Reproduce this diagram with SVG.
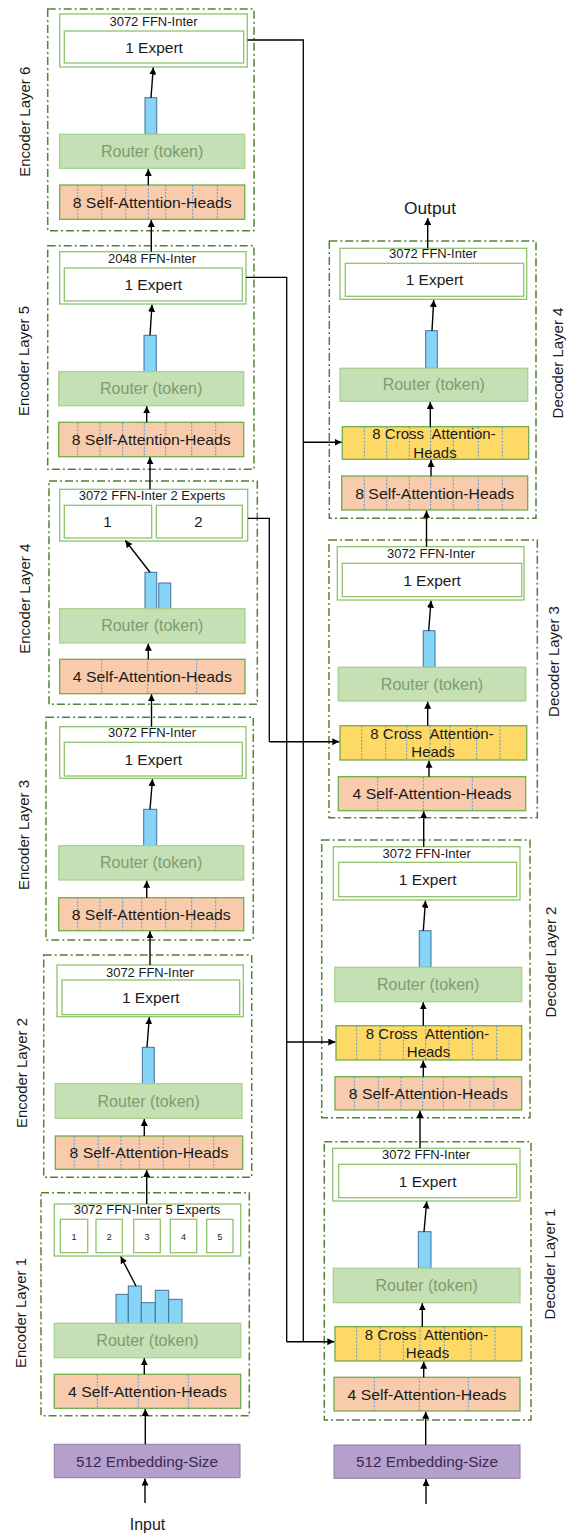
<svg xmlns="http://www.w3.org/2000/svg" width="574" height="1535" viewBox="0 0 574 1535">
<defs>
<marker id="ah" viewBox="0 0 10 10" refX="10" refY="5" markerWidth="5" markerHeight="5" orient="auto" markerUnits="strokeWidth"><path d="M0,0 L10,5 L0,10 z" fill="#000"/></marker>
<style>
.layer{fill:none;stroke:#548235;stroke-width:1.5;stroke-dasharray:8 3 2 3}
.ffn{fill:#fff;stroke:#8FC46E;stroke-width:1.3}
.router{fill:#C5E0B4;stroke:#A9D18E;stroke-width:1.3}
.sa{fill:#F8CBAD;stroke:#70AD47;stroke-width:1.3}
.ca{fill:#FFD966;stroke:#70AD47;stroke-width:1.3}
.emb{fill:#B59FCC;stroke:#8E7CA6;stroke-width:1}
.bar{fill:#86D5F6;stroke:#41719C;stroke-width:1}
.heads{stroke:#5B9BD5;stroke-width:1;stroke-dasharray:2 1.5;fill:none}
.t{font-family:"Liberation Sans",Arial,sans-serif;text-anchor:middle;fill:#1a1a1a}
.s{font-size:13px}
.m{font-size:15px}
.x{font-size:15.5px}
.r{font-size:16px;fill:#7F9B70}
.n{font-size:9px}
.e{font-size:15px;fill:#3C2A55}
.io{font-size:16px}
.ar{stroke:#000;stroke-width:1.4;fill:none;marker-end:url(#ah)}
.ln{stroke:#000;stroke-width:1.3;fill:none}
</style>
</defs>

<!-- ================= ENCODER ================= -->
<g id="enc6">
<rect class="layer" x="47.7" y="9" width="206.3" height="221.7"/>
<text class="t m" transform="translate(30,121.7) rotate(-90)">Encoder Layer 6</text>
<g id="enc6-ffn"><rect class="ffn" x="59.7" y="14" width="187.6" height="53"/><text class="t s" x="153.5" y="26">3072 FFN-Inter</text>
<rect class="ffn" x="64.3" y="31" width="179.4" height="32"/><text class="t x" x="154" y="52.5">1 Expert</text></g>
<g id="enc6-gate"><rect class="bar" x="145" y="97.7" width="11.7" height="36.6"/></g>
<g id="enc6-router"><rect class="router" x="59.7" y="134.3" width="185" height="34"/><text class="t r" x="152.2" y="156.7">Router (token)</text></g>
<g id="enc6-sa"><rect class="sa" x="59.7" y="185" width="185" height="34.3"/><path class="heads" d="M77.7,185V219.3M101.7,185V219.3M125.7,185V219.3M148.3,185V219.3M165.7,185V219.3M192.7,185V219.3M217.3,185V219.3"/><text class="t m" x="152.2" y="208.3" textLength="159" lengthAdjust="spacingAndGlyphs">8 Self-Attention-Heads</text></g>
</g>

<g id="enc5">
<rect class="layer" x="47.7" y="245.7" width="206.3" height="223.6"/>
<text class="t m" transform="translate(28.5,361) rotate(-90)">Encoder Layer 5</text>
<g id="enc5-ffn"><rect class="ffn" x="59.7" y="251.7" width="186.3" height="52.3"/><text class="t s" x="152" y="262.7">2048 FFN-Inter</text>
<rect class="ffn" x="64.3" y="268" width="178" height="33"/><text class="t x" x="153.3" y="290">1 Expert</text></g>
<g id="enc5-gate"><rect class="bar" x="144" y="335.3" width="12.3" height="36.4"/></g>
<g id="enc5-router"><rect class="router" x="58.7" y="371.7" width="185" height="34"/><text class="t r" x="151.2" y="394.2">Router (token)</text></g>
<g id="enc5-sa"><rect class="sa" x="58.7" y="422.3" width="185" height="34.4"/><path class="heads" d="M77.7,422.3V456.7M100,422.3V456.7M122.7,422.3V456.7M144.3,422.3V456.7M165.7,422.3V456.7M191.7,422.3V456.7M215.7,422.3V456.7"/><text class="t m" x="151.2" y="445" textLength="159" lengthAdjust="spacingAndGlyphs">8 Self-Attention-Heads</text></g>
</g>

<g id="enc4">
<rect class="layer" x="49" y="481" width="208.3" height="223.3"/>
<text class="t m" transform="translate(30,598.7) rotate(-90)">Encoder Layer 4</text>
<g id="enc4-ffn"><rect class="ffn" x="59.7" y="489.3" width="188" height="51.7"/><text class="t s" x="152" y="500">3072 FFN-Inter 2 Experts</text>
<rect class="ffn" x="64.3" y="505.3" width="87.4" height="32.7"/><text class="t m" x="107.5" y="527">1</text>
<rect class="ffn" x="156.3" y="505.3" width="86" height="32.7"/><text class="t m" x="198.5" y="527">2</text></g>
<g id="enc4-gate"><rect class="bar" x="145" y="572.3" width="11.7" height="37"/><rect class="bar" x="158.7" y="583" width="12" height="26.3"/></g>
<g id="enc4-router"><rect class="router" x="59.7" y="608.7" width="185.3" height="34.3"/><text class="t r" x="152.3" y="631.3">Router (token)</text></g>
<g id="enc4-sa"><rect class="sa" x="59.7" y="659.3" width="185.3" height="34.4"/><path class="heads" d="M101.7,659.3V693.7M147.7,659.3V693.7M196.7,659.3V693.7"/><text class="t m" x="152.3" y="682" textLength="159" lengthAdjust="spacingAndGlyphs">4 Self-Attention-Heads</text></g>
</g>

<g id="enc3">
<rect class="layer" x="46" y="717.3" width="207.3" height="222.7"/>
<text class="t m" transform="translate(28.5,835) rotate(-90)">Encoder Layer 3</text>
<g id="enc3-ffn"><rect class="ffn" x="59.7" y="726.7" width="186.3" height="51.6"/><text class="t s" x="152" y="737.3">3072 FFN-Inter</text>
<rect class="ffn" x="64.3" y="742.3" width="178" height="33.7"/><text class="t x" x="153.3" y="764.7">1 Expert</text></g>
<g id="enc3-gate"><rect class="bar" x="143.7" y="809.3" width="13" height="38"/></g>
<g id="enc3-router"><rect class="router" x="58.7" y="845.7" width="185" height="34.3"/><text class="t r" x="151.2" y="868.3">Router (token)</text></g>
<g id="enc3-sa"><rect class="sa" x="58.7" y="897.7" width="185" height="33"/><path class="heads" d="M77.7,897.7V930.7M100,897.7V930.7M122.7,897.7V930.7M141.7,897.7V930.7M165.7,897.7V930.7M191.7,897.7V930.7M215.7,897.7V930.7"/><text class="t m" x="151.2" y="919.7" textLength="159" lengthAdjust="spacingAndGlyphs">8 Self-Attention-Heads</text></g>
</g>

<g id="enc2">
<rect class="layer" x="43.7" y="955" width="208" height="222.3"/>
<text class="t m" transform="translate(27,1073) rotate(-90)">Encoder Layer 2</text>
<g id="enc2-ffn"><rect class="ffn" x="57" y="965" width="186.3" height="51.7"/><text class="t s" x="150" y="976.7">3072 FFN-Inter</text>
<rect class="ffn" x="62" y="980" width="177.7" height="34.7"/><text class="t x" x="150.8" y="1002.8">1 Expert</text></g>
<g id="enc2-gate"><rect class="bar" x="142.3" y="1047.3" width="12" height="38"/></g>
<g id="enc2-router"><rect class="router" x="55.3" y="1083.7" width="186.7" height="34.6"/><text class="t r" x="148.7" y="1106.5">Router (token)</text></g>
<g id="enc2-sa"><rect class="sa" x="55.3" y="1136" width="187.4" height="33.3"/><path class="heads" d="M74.3,1136V1169.3M98.3,1136V1169.3M121,1136V1169.3M139.3,1136V1169.3M163.3,1136V1169.3M189.3,1136V1169.3M213.7,1136V1169.3"/><text class="t m" x="149" y="1158.2" textLength="159" lengthAdjust="spacingAndGlyphs">8 Self-Attention-Heads</text></g>
</g>

<g id="enc1">
<rect class="layer" x="41" y="1192.7" width="208.3" height="223"/>
<text class="t m" transform="translate(26,1313) rotate(-90)">Encoder Layer 1</text>
<g id="enc1-ffn"><rect class="ffn" x="54.3" y="1204" width="186.4" height="52"/><text class="t s" x="147" y="1214.3">3072 FFN-Inter 5 Experts</text>
<rect class="ffn" x="60.3" y="1219.3" width="27.4" height="33.4"/><text class="t n" x="74" y="1239.5">1</text>
<rect class="ffn" x="96" y="1219.3" width="26.3" height="33.4"/><text class="t n" x="109.2" y="1239.5">2</text>
<rect class="ffn" x="133.7" y="1219.3" width="26.6" height="33.4"/><text class="t n" x="147" y="1239.5">3</text>
<rect class="ffn" x="170.3" y="1219.3" width="26.4" height="33.4"/><text class="t n" x="183.5" y="1239.5">4</text>
<rect class="ffn" x="206.7" y="1219.3" width="26.3" height="33.4"/><text class="t n" x="219.8" y="1239.5">5</text></g>
<g id="enc1-gate"><rect class="bar" x="116" y="1294.3" width="12.3" height="29.7"/><rect class="bar" x="128.3" y="1286" width="13" height="38"/><rect class="bar" x="141.3" y="1302.7" width="14" height="21.3"/><rect class="bar" x="155.3" y="1290.3" width="13.4" height="33.7"/><rect class="bar" x="168.7" y="1299.3" width="13.3" height="24.7"/></g>
<g id="enc1-router"><rect class="router" x="54.3" y="1323.3" width="186.4" height="34.4"/><text class="t r" x="147.5" y="1346">Router (token)</text></g>
<g id="enc1-sa"><rect class="sa" x="54.3" y="1374.3" width="186.4" height="34"/><path class="heads" d="M97.3,1374.3V1408.3M138.3,1374.3V1408.3M188.3,1374.3V1408.3"/><text class="t m" x="147.5" y="1396.8" textLength="159" lengthAdjust="spacingAndGlyphs">4 Self-Attention-Heads</text></g>
</g>

<g id="enc-emb"><rect class="emb" x="54.3" y="1444.3" width="185.7" height="33.4"/><text class="t e" x="147" y="1466.5" textLength="142" lengthAdjust="spacingAndGlyphs">512 Embedding-Size</text></g>
<g id="input"><text class="t io" x="147.5" y="1529.5">Input</text></g>

<!-- ================= DECODER ================= -->
<g id="dec4">
<rect class="layer" x="329.3" y="241" width="206.7" height="277.3"/>
<text class="t m" transform="translate(562.5,363) rotate(-90)">Decoder Layer 4</text>
<g id="dec4-ffn"><rect class="ffn" x="340" y="248.3" width="186.7" height="51"/><text class="t s" x="433" y="258.3">3072 FFN-Inter</text>
<rect class="ffn" x="345.3" y="263.3" width="178.4" height="33"/><text class="t x" x="434.5" y="285.3">1 Expert</text></g>
<g id="dec4-gate"><rect class="bar" x="425.7" y="330.7" width="11.6" height="37.6"/></g>
<g id="dec4-router"><rect class="router" x="340" y="368.3" width="187.7" height="33"/><text class="t r" x="433.8" y="390.3">Router (token)</text></g>
<g id="dec4-ca"><rect class="ca" x="342.3" y="426.7" width="186.4" height="32.6"/><path class="heads" d="M364.3,426.7V459.3M386.7,426.7V459.3M409.3,426.7V459.3M430.7,426.7V459.3M453.3,426.7V459.3M478.3,426.7V459.3M502.3,426.7V459.3"/><text class="t m" x="434" y="439.3" xml:space="preserve">8 Cross  Attention-</text><text class="t m" x="435" y="457.5">Heads</text></g>
<g id="dec4-sa"><rect class="sa" x="341.7" y="476" width="186" height="34"/><path class="heads" d="M364.3,476V510M386.7,476V510M409.3,476V510M430.7,476V510M453.3,476V510M478.3,476V510M502.3,476V510"/><text class="t m" x="434.7" y="498.5" textLength="159" lengthAdjust="spacingAndGlyphs">8 Self-Attention-Heads</text></g>
</g>
<g id="output"><text class="t io" x="430" y="213.5" textLength="52" lengthAdjust="spacingAndGlyphs">Output</text></g>

<g id="dec3">
<rect class="layer" x="329" y="540" width="208.3" height="277.7"/>
<text class="t m" transform="translate(559,661.5) rotate(-90)">Decoder Layer 3</text>
<g id="dec3-ffn"><rect class="ffn" x="337.3" y="546.7" width="186.7" height="53.3"/><text class="t s" x="431" y="558.3">3072 FFN-Inter</text>
<rect class="ffn" x="342.3" y="563.3" width="179.4" height="33.4"/><text class="t x" x="432" y="585.5">1 Expert</text></g>
<g id="dec3-gate"><rect class="bar" x="423.3" y="630.7" width="11.7" height="36.6"/></g>
<g id="dec3-router"><rect class="router" x="338.3" y="667.3" width="187.4" height="33.7"/><text class="t r" x="432" y="689.7">Router (token)</text></g>
<g id="dec3-ca"><rect class="ca" x="340" y="725.7" width="186.7" height="34.3"/><path class="heads" d="M361.7,725.7V760M385.7,725.7V760M406.7,725.7V760M430,725.7V760M450,725.7V760M476.7,725.7V760M500,725.7V760"/><text class="t m" x="432" y="738.5" xml:space="preserve">8 Cross  Attention-</text><text class="t m" x="433" y="757">Heads</text></g>
<g id="dec3-sa"><rect class="sa" x="338.3" y="776.7" width="187.4" height="34"/><path class="heads" d="M377.7,776.7V810.7M423.3,776.7V810.7M472.3,776.7V810.7"/><text class="t m" x="432" y="799" textLength="159" lengthAdjust="spacingAndGlyphs">4 Self-Attention-Heads</text></g>
</g>

<g id="dec2">
<rect class="layer" x="321.7" y="840" width="208.3" height="277.7"/>
<text class="t m" transform="translate(556,962) rotate(-90)">Decoder Layer 2</text>
<g id="dec2-ffn"><rect class="ffn" x="333.3" y="846.7" width="186.7" height="53.3"/><text class="t s" x="426.7" y="858.3">3072 FFN-Inter</text>
<rect class="ffn" x="338.7" y="862.3" width="178" height="34.4"/><text class="t x" x="427.7" y="885">1 Expert</text></g>
<g id="dec2-gate"><rect class="bar" x="419.3" y="930.7" width="11.7" height="36.6"/></g>
<g id="dec2-router"><rect class="router" x="334.7" y="967.3" width="187" height="34.4"/><text class="t r" x="428.2" y="990">Router (token)</text></g>
<g id="dec2-ca"><rect class="ca" x="336" y="1025.7" width="185.7" height="34.3"/><path class="heads" d="M356.7,1025.7V1060M380,1025.7V1060M403.3,1025.7V1060M425.7,1025.7V1060M449,1025.7V1060M472.3,1025.7V1060M496.7,1025.7V1060"/><text class="t m" x="427.5" y="1038.5" xml:space="preserve">8 Cross  Attention-</text><text class="t m" x="428.5" y="1057">Heads</text></g>
<g id="dec2-sa"><rect class="sa" x="335" y="1076.7" width="186.7" height="33.3"/><path class="heads" d="M354.3,1076.7V1110M378.3,1076.7V1110M401,1076.7V1110M422.7,1076.7V1110M443.3,1076.7V1110M470,1076.7V1110M494,1076.7V1110"/><text class="t m" x="428.3" y="1098.5" textLength="159" lengthAdjust="spacingAndGlyphs">8 Self-Attention-Heads</text></g>
</g>

<g id="dec1">
<rect class="layer" x="324.3" y="1141.7" width="206.7" height="278.3"/>
<text class="t m" transform="translate(555,1264) rotate(-90)">Decoder Layer 1</text>
<g id="dec1-ffn"><rect class="ffn" x="332.7" y="1148.3" width="187.3" height="52.7"/><text class="t s" x="426" y="1159.3">3072 FFN-Inter</text>
<rect class="ffn" x="338.7" y="1164.3" width="178" height="33.4"/><text class="t x" x="427.7" y="1186.5">1 Expert</text></g>
<g id="dec1-gate"><rect class="bar" x="418.3" y="1231.7" width="12.7" height="36.6"/></g>
<g id="dec1-router"><rect class="router" x="333.3" y="1268.3" width="186.7" height="34.4"/><text class="t r" x="426.7" y="1291">Router (token)</text></g>
<g id="dec1-ca"><rect class="ca" x="335" y="1326.7" width="186.7" height="34.3"/><path class="heads" d="M356.7,1326.7V1361M380,1326.7V1361M403.3,1326.7V1361M420,1326.7V1361M444.3,1326.7V1361M471,1326.7V1361M495,1326.7V1361"/><text class="t m" x="426.5" y="1339.5" xml:space="preserve">8 Cross  Attention-</text><text class="t m" x="427.5" y="1358">Heads</text></g>
<g id="dec1-sa"><rect class="sa" x="334" y="1377.3" width="186" height="33.7"/><path class="heads" d="M374.3,1377.3V1411M419.3,1377.3V1411M468.3,1377.3V1411"/><text class="t m" x="427" y="1399.5" textLength="159" lengthAdjust="spacingAndGlyphs">4 Self-Attention-Heads</text></g>
</g>
<g id="dec-emb"><rect class="emb" x="334" y="1445" width="186" height="33.3"/><text class="t e" x="427" y="1467" textLength="142" lengthAdjust="spacingAndGlyphs">512 Embedding-Size</text></g>

<!-- ================= CONNECTORS ================= -->
<g id="connectors">
<!-- encoder flow -->
<path class="ar" d="M145,1503V1478.5"/>
<path class="ar" d="M145.3,1444.3V1409"/>
<path class="ar" d="M144.3,1374.3V1358.3"/>
<path class="ar" d="M136,1286L120.7,1256.5"/>
<path class="ar" d="M146.7,1204V1170"/>
<path class="ar" d="M144.3,1136V1119"/>
<path class="ar" d="M147,1047.3L149.3,1017.3"/>
<path class="ar" d="M150,965V931.3"/>
<path class="ar" d="M146.7,897.7V880.7"/>
<path class="ar" d="M150,809.3L152.5,779"/>
<path class="ar" d="M151.5,726.7V694.3"/>
<path class="ar" d="M148.3,659.3V643.7"/>
<path class="ar" d="M150,572.3L125.3,540.5"/>
<path class="ar" d="M150,489.3V457.3"/>
<path class="ar" d="M146.7,422.3V406.3"/>
<path class="ar" d="M150,335.3L152,304.7"/>
<path class="ar" d="M151.3,251.7V220"/>
<path class="ar" d="M148.3,185V169"/>
<path class="ar" d="M151,97.7L153.3,67.5"/>
<!-- decoder flow -->
<path class="ar" d="M426,1504V1479"/>
<path class="ar" d="M425.7,1445V1411.7"/>
<path class="ar" d="M423.7,1377.3V1361.7"/>
<path class="ar" d="M422.3,1326.7V1303.3"/>
<path class="ar" d="M424,1231.7L426.7,1201.5"/>
<path class="ar" d="M420,1148.3V1110.7"/>
<path class="ar" d="M423.3,1076.7V1060.7"/>
<path class="ar" d="M423.3,1025.7V1002.3"/>
<path class="ar" d="M423.3,930.7L425.5,900.7"/>
<path class="ar" d="M423.7,846.7V811.3"/>
<path class="ar" d="M429,776.7V760.7"/>
<path class="ar" d="M427.7,725.7V701.7"/>
<path class="ar" d="M428.7,630.7L431,600.7"/>
<path class="ar" d="M426.5,546.7V510.7"/>
<path class="ar" d="M431,476V460"/>
<path class="ar" d="M430.3,426.7V402"/>
<path class="ar" d="M432,330.7L433.7,300"/>
<path class="ar" d="M427.7,248.3V218"/>
<!-- encoder to decoder cross attention -->
<path class="ln" d="M247.5,40H303.3V1341.7"/>
<path class="ar" d="M303.3,442.3H341.5"/>
<path class="ln" d="M246,277.3H286.7V1341.7"/>
<path class="ar" d="M286.7,1341.7H334.3"/>
<path class="ar" d="M286.7,1042H335.3"/>
<path class="ln" d="M248,518.3H269.3V741.7"/>
<path class="ar" d="M269.3,741.7H339.3"/>
</g>
</svg>
